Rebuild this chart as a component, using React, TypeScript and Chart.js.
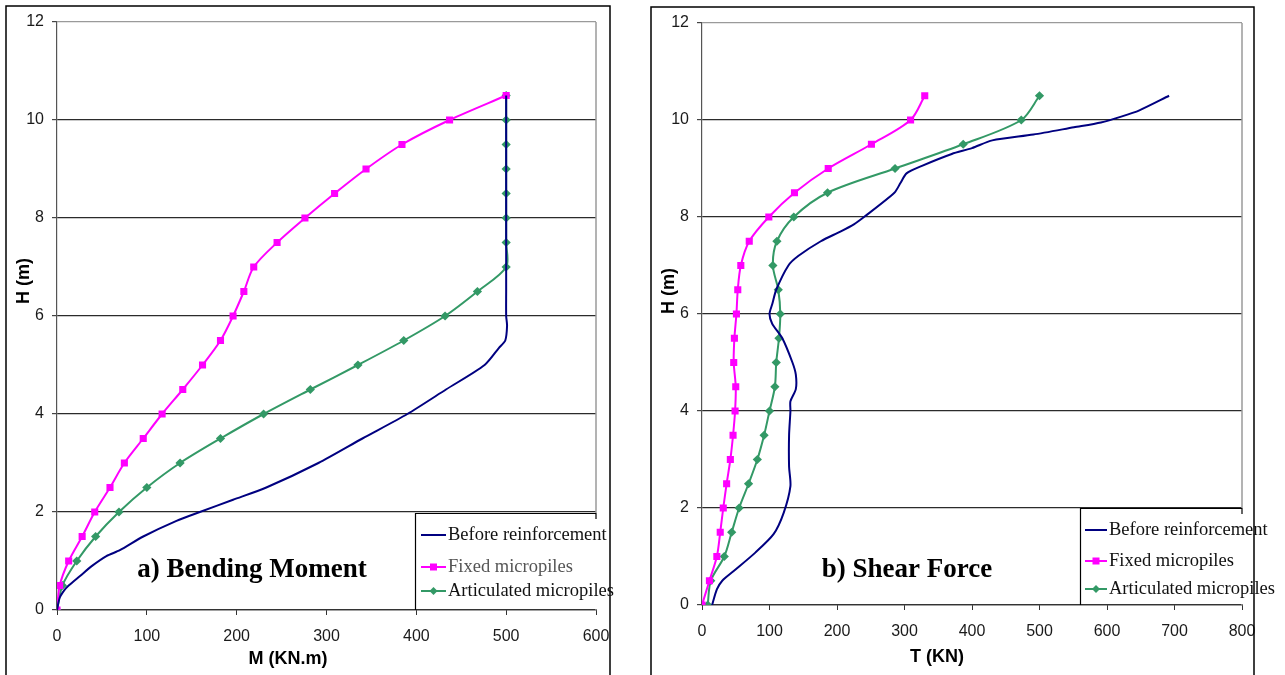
import React, { useEffect, useRef } from "react";
import { Chart, registerables } from "chart.js";

Chart.register(...registerables);

// ---------- data ----------
const H_LEVELS = [0, 0.5, 1, 1.5, 2, 2.5, 3, 3.5, 4, 4.5, 5, 5.5, 6, 6.5, 7, 7.5, 8, 8.5, 9, 9.5, 10, 10.5];

// a) Bending moment M (KN.m)
const bmFixedM = [0, 3, 13, 28, 42, 59, 75, 96, 117, 140, 162, 182, 196, 208, 219, 245, 276, 309, 344, 384, 437, 500];
const bmArticulatedM = [0, 6, 22, 43, 69, 100, 137, 182, 230, 282, 335, 386, 432, 468, 500, 500, 500, 500, 500, 500, 500, 500];
const bmBeforeH = [0, 0.25, 0.4, 0.5, 0.7, 0.9, 1.1, 1.22, 1.5, 1.82, 2, 2.25, 2.5, 3, 3.5, 4, 4.5, 5, 5.35, 5.5, 5.8, 6, 6.5, 7, 8, 9, 10, 10.5];
const bmBeforeM = [0, 3, 8, 13, 26, 39, 55, 70, 96, 133, 159, 196, 233, 291, 340, 390, 433, 476, 492, 499, 501, 500, 500, 500, 500, 500, 500, 500];

// b) Shear force T (KN)
const sfFixedT = [0, 11, 22, 27, 31.5, 36.5, 42, 46, 49, 50, 47, 48, 51, 53, 57.5, 70, 99, 137, 187, 251, 309, 330];
const sfArticulatedT = [8.5, 13, 33, 44, 55, 69, 82, 92, 100, 108, 110, 114, 116, 113, 105, 111, 136, 186, 286, 387, 473, 500];
const sfBeforeH = [0, 0.32, 0.5, 0.7, 1.08, 1.46, 1.9, 2.45, 2.85, 3.5, 4.0, 4.2, 4.45, 4.75, 5.0, 5.5, 5.8, 6.0, 6.2, 6.5, 7.0, 7.2, 7.5, 7.7, 7.85, 8.0, 8.5, 8.7, 8.9, 9.05, 9.3, 9.42, 9.58, 9.7, 9.85, 9.95, 10.07, 10.2, 10.5];
const sfBeforeT = [15, 22, 30, 47, 79, 106, 121, 131, 129, 129, 131, 131, 139, 139, 134, 119, 104, 100, 104, 110, 128, 143, 176, 205, 225, 240, 285, 294, 303, 325, 370, 400, 430, 491, 551, 591, 621, 648, 692];

const SERIES_LABELS = ["Before reinforcement", "Fixed micropiles", "Articulated micropiles"];
const Y_TICKS = [0, 2, 4, 6, 8, 10, 12];

const BLUE = "#000080";
const MAGENTA = "#ff00ff";
const GREEN = "#339966";

const SANS = "'Liberation Sans', Arial, sans-serif";
const SERIF = "'Liberation Serif', 'Times New Roman', serif";

type Panel = {
  width: number;
  height: number;
  left: number; // canvas page offset
  area: { left: number; right: number; top: number; bottom: number };
  xMax: number;
  frame: { left: number; top: number; right: number };
  legend: { left: number; top: number; sampleX: number; textX: number; rows: number[]; fixedColor: string };
  title: { text: string; x: number; y: number };
  xTitle: { text: string; x: number; y: number };
  yTitle: { text: string; x: number; y: number };
  datasets: any[];
};

function pts(xs: number[], ys: number[]) {
  return xs.map((x, i) => ({ x, y: ys[i] }));
}

function makeDatasets(before: any[], fixed: any[], artic: any[]) {
  return [
    {
      label: SERIES_LABELS[0],
      data: before,
      borderColor: BLUE,
      backgroundColor: BLUE,
      borderWidth: 2,
      pointRadius: 0,
      showLine: true,
      tension: 0.25,
    },
    {
      label: SERIES_LABELS[1],
      data: fixed,
      borderColor: MAGENTA,
      backgroundColor: MAGENTA,
      borderWidth: 2,
      pointStyle: "rect",
      pointRadius: 3.6,
      showLine: true,
      tension: 0.3,
    },
    {
      label: SERIES_LABELS[2],
      data: artic,
      borderColor: GREEN,
      backgroundColor: GREEN,
      borderWidth: 2,
      pointStyle: "rectRot",
      pointRadius: 3.2,
      showLine: true,
      tension: 0.3,
    },
  ];
}

const panelA: Panel = {
  width: 640,
  height: 675,
  left: 0,
  area: { left: 57, right: 596, top: 22, bottom: 610 },
  xMax: 600,
  frame: { left: 6, top: 6, right: 610 },
  legend: { left: 415, top: 513, sampleX: 421, textX: 448, rows: [535, 567, 591], fixedColor: "#555555" },
  title: { text: "a) Bending Moment", x: 252, y: 570 },
  xTitle: { text: "M (KN.m)", x: 288, y: 659 },
  yTitle: { text: "H (m)", x: 24, y: 281 },
  datasets: makeDatasets(
    pts(bmBeforeM, bmBeforeH),
    pts(bmFixedM, H_LEVELS),
    pts(bmArticulatedM, H_LEVELS)
  ),
};

const panelB: Panel = {
  width: 645,
  height: 675,
  left: 640,
  area: { left: 62, right: 602, top: 23, bottom: 605 },
  xMax: 800,
  frame: { left: 11, top: 7, right: 614 },
  legend: { left: 440, top: 508, sampleX: 445, textX: 469, rows: [530, 561, 589], fixedColor: "#111111" },
  title: { text: "b) Shear Force", x: 267, y: 570 },
  xTitle: { text: "T (KN)", x: 297, y: 657 },
  yTitle: { text: "H (m)", x: 29, y: 291 },
  datasets: makeDatasets(
    pts(sfBeforeT, sfBeforeH),
    pts(sfFixedT, H_LEVELS),
    pts(sfArticulatedT, H_LEVELS)
  ),
};

function decorPlugin(p: Panel) {
  return {
    id: "decor",
    afterDraw(chart: any) {
      const ctx = chart.ctx as CanvasRenderingContext2D;
      const a = chart.chartArea;
      ctx.save();
      // panel frame
      ctx.strokeStyle = "#000";
      ctx.lineWidth = 1.5;
      ctx.beginPath();
      ctx.moveTo(p.frame.left, p.height + 2);
      ctx.lineTo(p.frame.left, p.frame.top);
      ctx.lineTo(p.frame.right, p.frame.top);
      ctx.lineTo(p.frame.right, p.height + 2);
      ctx.stroke();

      // right plot border (gray)
      ctx.strokeStyle = "#9a9a9a";
      ctx.lineWidth = 1.5;
      ctx.beginPath();
      ctx.moveTo(a.right, a.top);
      ctx.lineTo(a.right, a.bottom);
      ctx.stroke();

      // legend box
      const L = p.legend;
      ctx.fillStyle = "#fff";
      ctx.fillRect(L.left, L.top, a.right - L.left + 1, a.bottom - L.top - 1);
      ctx.strokeStyle = "#000";
      ctx.lineWidth = 1.2;
      ctx.beginPath();
      ctx.moveTo(L.left + 0.5, a.bottom);
      ctx.lineTo(L.left + 0.5, L.top + 0.5);
      ctx.lineTo(a.right, L.top + 0.5);
      ctx.lineTo(a.right, L.top + 6);
      ctx.stroke();

      // legend items
      const ds = chart.data.datasets;
      ds.forEach((d: any, i: number) => {
        const y = L.rows[i];
        ctx.strokeStyle = d.borderColor;
        ctx.lineWidth = 2;
        ctx.beginPath();
        ctx.moveTo(L.sampleX, y);
        ctx.lineTo(L.textX - 2, y);
        ctx.stroke();
        const cx = (L.sampleX + L.textX - 2) / 2;
        ctx.fillStyle = d.borderColor;
        if (d.pointStyle === "rect") {
          ctx.fillRect(cx - 3.5, y - 3.5, 7, 7);
        } else if (d.pointStyle === "rectRot") {
          ctx.beginPath();
          ctx.moveTo(cx, y - 4);
          ctx.lineTo(cx + 4, y);
          ctx.lineTo(cx, y + 4);
          ctx.lineTo(cx - 4, y);
          ctx.closePath();
          ctx.fill();
        }
        ctx.fillStyle = i === 1 ? L.fixedColor : "#111";
        ctx.font = `18.5px ${SERIF}`;
        ctx.textAlign = "left";
        ctx.textBaseline = "middle";
        ctx.fillText(d.label, L.textX, y);
      });

      // panel title
      ctx.fillStyle = "#000";
      ctx.font = `bold 27px ${SERIF}`;
      ctx.textAlign = "center";
      ctx.textBaseline = "middle";
      ctx.fillText(p.title.text, p.title.x, p.title.y);

      // axis titles
      ctx.font = `bold 18px ${SANS}`;
      ctx.fillStyle = "#000";
      ctx.fillText(p.xTitle.text, p.xTitle.x, p.xTitle.y);
      ctx.save();
      ctx.translate(p.yTitle.x, p.yTitle.y);
      ctx.rotate(-Math.PI / 2);
      ctx.fillText(p.yTitle.text, 0, 0);
      ctx.restore();

      ctx.restore();
    },
  };
}

function makeConfig(p: Panel): any {
  const yAxisWidth = p.area.left;
  const xAxisHeight = p.height - p.area.bottom;
  return {
    type: "scatter",
    data: { datasets: p.datasets },
    options: {
      responsive: false,
      animation: false,
      devicePixelRatio: 1,
      layout: {
        padding: { left: 0, top: p.area.top, right: p.width - p.area.right, bottom: 0 },
      },
      plugins: {
        legend: { display: false },
        tooltip: { enabled: false },
        title: { display: false },
      },
      scales: {
        x: {
          type: "linear",
          min: 0,
          max: p.xMax,
          afterFit: (s: any) => {
            s.height = xAxisHeight;
          },
          ticks: {
            stepSize: 100,
            color: "#1a1a1a",
            font: { family: SANS, size: 16 },
            padding: 12,
            maxRotation: 0,
          },
          grid: {
            display: true,
            drawOnChartArea: false,
            drawTicks: true,
            tickLength: 5,
            tickColor: "#333",
          },
          border: { display: true, color: "#333", width: 1.2 },
        },
        y: {
          type: "linear",
          min: 0,
          max: 12,
          afterFit: (s: any) => {
            s.width = yAxisWidth;
          },
          afterBuildTicks: (s: any) => {
            s.ticks = Y_TICKS.map((v) => ({ value: v }));
          },
          ticks: {
            color: "#1a1a1a",
            font: { family: SANS, size: 16 },
            padding: 8,
          },
          grid: {
            display: true,
            drawTicks: true,
            tickLength: 5,
            tickColor: "#444",
            lineWidth: 1.2,
            color: (c: any) => (c.tick && c.tick.value === 12 ? "#9a9a9a" : "#2b2b2b"),
          },
          border: { display: true, color: "#555", width: 1.2 },
        },
      },
    },
    plugins: [decorPlugin(p)],
  };
}

function PanelChart({ panel }: { panel: Panel }) {
  const ref = useRef<HTMLCanvasElement | null>(null);
  useEffect(() => {
    if (!ref.current) return;
    const chart = new Chart(ref.current, makeConfig(panel));
    return () => chart.destroy();
  }, [panel]);
  return (
    <canvas
      ref={ref}
      width={panel.width}
      height={panel.height}
      style={{ position: "absolute", left: panel.left, top: 0, width: panel.width, height: panel.height }}
    />
  );
}

export default function App() {
  return (
    <div
      style={{
        position: "fixed",
        left: 0,
        top: 0,
        width: 1285,
        height: 675,
        background: "#fff",
        overflow: "hidden",
      }}
    >
      <PanelChart panel={panelA} />
      <PanelChart panel={panelB} />
    </div>
  );
}
